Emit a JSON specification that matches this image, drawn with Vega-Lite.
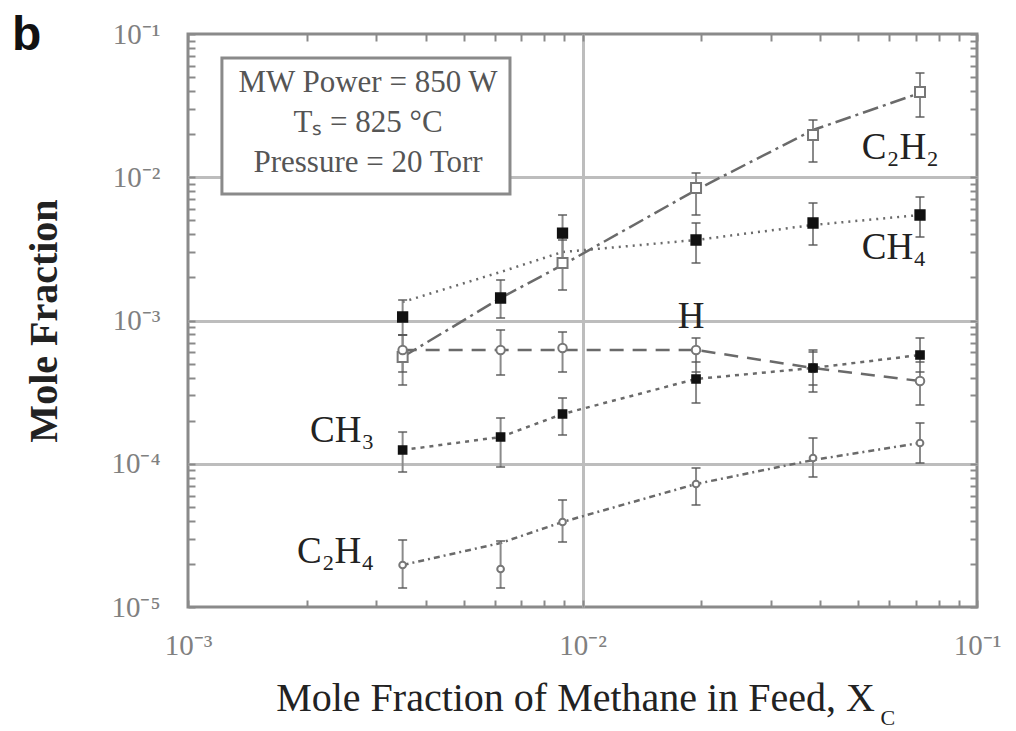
{
  "$schema": "https://vega.github.io/schema/vega-lite/v6.json",
  "width": 789,
  "height": 573,
  "autosize": {"type": "none"},
  "padding": {"left": 188, "top": 34, "right": 39, "bottom": 124},
  "title": {"text": "b", "anchor": "start", "frame": "group", "font": "Liberation Sans", "fontSize": 48, "fontWeight": "bold", "color": "#111111", "dx": -176, "dy": 40, "offset": 0},
  "config": {
    "view": {"stroke": "#8a8a8a", "strokeWidth": 3},
    "font": "Liberation Serif"
  },
  "datasets": {
    "pts": [
      {"species": "C2H2", "x": 0.0035, "y": 0.000556, "lo": 0.0003545, "hi": 0.000792},
      {"species": "C2H2", "x": 0.0089, "y": 0.00252, "lo": 0.001633, "hi": 0.003648},
      {"species": "C2H2", "x": 0.0194, "y": 0.008414, "lo": 0.005452, "hi": 0.01071},
      {"species": "C2H2", "x": 0.0384, "y": 0.01972, "lo": 0.01278, "hi": 0.0251},
      {"species": "C2H2", "x": 0.0717, "y": 0.03937, "lo": 0.02634, "hi": 0.05341},
      {"species": "CH4", "x": 0.0035, "y": 0.001058, "lo": 0.000792, "hi": 0.00139},
      {"species": "CH4", "x": 0.0062, "y": 0.001436, "lo": 0.001041, "hi": 0.001918},
      {"species": "CH4", "x": 0.0089, "y": 0.00408, "lo": 0.002731, "hi": 0.005452},
      {"species": "CH4", "x": 0.0194, "y": 0.003648, "lo": 0.00252, "hi": 0.004793},
      {"species": "CH4", "x": 0.0384, "y": 0.004793, "lo": 0.003366, "hi": 0.006611},
      {"species": "CH4", "x": 0.0717, "y": 0.005452, "lo": 0.003826, "hi": 0.00728},
      {"species": "H", "x": 0.0035, "y": 0.0006224, "lo": 0.0004369, "hi": 0.000792},
      {"species": "H", "x": 0.0062, "y": 0.0006224, "lo": 0.0004164, "hi": 0.0008587},
      {"species": "H", "x": 0.0089, "y": 0.0006427, "lo": 0.0004369, "hi": 0.0008312},
      {"species": "H", "x": 0.0194, "y": 0.0006224, "lo": 0.0004369, "hi": 0.0007547},
      {"species": "H", "x": 0.0384, "y": 0.000466, "lo": 0.0003545, "hi": 0.0006028},
      {"species": "H", "x": 0.0717, "y": 0.0003781, "lo": 0.0002571, "hi": 0.0005133},
      {"species": "CH3", "x": 0.0035, "y": 0.0001247, "lo": 0.00008759, "hi": 0.0001665},
      {"species": "CH3", "x": 0.0062, "y": 0.0001537, "lo": 0.0000949, "hi": 0.0002086},
      {"species": "CH3", "x": 0.0089, "y": 0.0002225, "lo": 0.0001587, "hi": 0.0002877},
      {"species": "CH3", "x": 0.0194, "y": 0.0003905, "lo": 0.0002655, "hi": 0.0005133},
      {"species": "CH3", "x": 0.0384, "y": 0.000466, "lo": 0.0003168, "hi": 0.0006224},
      {"species": "CH3", "x": 0.0717, "y": 0.0005742, "lo": 0.0004369, "hi": 0.0007547},
      {"species": "C2H4", "x": 0.0035, "y": 0.00001964, "lo": 0.00001357, "hi": 0.00002935},
      {"species": "C2H4", "x": 0.0062, "y": 0.00001842, "lo": 0.00001357, "hi": 0.00002888},
      {"species": "C2H4", "x": 0.0089, "y": 0.00003922, "lo": 0.00002842, "hi": 0.00005583},
      {"species": "C2H4", "x": 0.0194, "y": 0.00007223, "lo": 0.00005152, "hi": 0.0000934},
      {"species": "C2H4", "x": 0.0384, "y": 0.0001097, "lo": 0.00008083, "hi": 0.0001513},
      {"species": "C2H4", "x": 0.0717, "y": 0.0001396, "lo": 0.0001012, "hi": 0.0001925}
    ],
    "fits": [
      {"species": "C2H2", "x": 0.0035, "y": 0.000556},
      {"species": "C2H2", "x": 0.0062, "y": 0.001436},
      {"species": "C2H2", "x": 0.0089, "y": 0.00244},
      {"species": "C2H2", "x": 0.0194, "y": 0.008147},
      {"species": "C2H2", "x": 0.0384, "y": 0.02137},
      {"species": "C2H2", "x": 0.0717, "y": 0.03874},
      {"species": "CH4", "x": 0.0035, "y": 0.001346},
      {"species": "CH4", "x": 0.0062, "y": 0.002181},
      {"species": "CH4", "x": 0.0089, "y": 0.003007},
      {"species": "CH4", "x": 0.0194, "y": 0.003648},
      {"species": "CH4", "x": 0.0384, "y": 0.004641},
      {"species": "CH4", "x": 0.0717, "y": 0.005452},
      {"species": "H", "x": 0.0035, "y": 0.0006224},
      {"species": "H", "x": 0.0062, "y": 0.0006224},
      {"species": "H", "x": 0.0089, "y": 0.0006224},
      {"species": "H", "x": 0.0194, "y": 0.0006224},
      {"species": "H", "x": 0.0384, "y": 0.000466},
      {"species": "H", "x": 0.0717, "y": 0.0003781},
      {"species": "CH3", "x": 0.0035, "y": 0.0001247},
      {"species": "CH3", "x": 0.0062, "y": 0.0001537},
      {"species": "CH3", "x": 0.0089, "y": 0.0002225},
      {"species": "CH3", "x": 0.0194, "y": 0.0003905},
      {"species": "CH3", "x": 0.0384, "y": 0.000466},
      {"species": "CH3", "x": 0.0717, "y": 0.0005742},
      {"species": "C2H4", "x": 0.0035, "y": 0.00001964},
      {"species": "C2H4", "x": 0.0062, "y": 0.00002797},
      {"species": "C2H4", "x": 0.0089, "y": 0.00003922},
      {"species": "C2H4", "x": 0.0194, "y": 0.00007223},
      {"species": "C2H4", "x": 0.0384, "y": 0.0001062},
      {"species": "C2H4", "x": 0.0717, "y": 0.0001396}
    ],
    "labels": [
      {"text": "C₂H₂", "x": 0.05105, "y": 0.016},
      {"text": "CH₄", "x": 0.05105, "y": 0.003207},
      {"text": "H", "x": 0.01743, "y": 0.001058},
      {"text": "CH₃", "x": 0.002038, "y": 0.0001693},
      {"text": "C₂H₄", "x": 0.001889, "y": 0.00002421}
    ],
    "box": [
      {"x1": 0.001219, "x2": 0.006549, "y1": 0.06799, "y2": 0.007639}
    ],
    "boxtext": [
      {"text": "MW Power = 850 W", "x": 0.00286, "y": 0.0455},
      {"text": "Tₛ = 825 °C", "x": 0.00286, "y": 0.02391},
      {"text": "Pressure = 20 Torr", "x": 0.00286, "y": 0.01258}
    ],
    "sub": [
      {"text": "C", "x": 0.05942, "y": 0.000001679}
    ]
  },
  "resolve": {"axis": {"x": "independent", "y": "independent"}},
  "layer": [
    {
      "data": {"name": "box"},
      "mark": {"type": "rect", "fill": "white", "stroke": "#8a8a8a", "strokeWidth": 3},
      "encoding": {
        "x": {"field": "x1", "type": "quantitative", "scale": {"type": "log", "domain": [0.001, 0.1], "nice": false},
          "axis": {"orient": "top", "values": [0.001, 0.002, 0.003, 0.004, 0.005, 0.006, 0.007, 0.008, 0.009, 0.01, 0.02, 0.03, 0.04, 0.05, 0.06, 0.07, 0.08, 0.09, 0.1], "labels": false, "ticks": true, "tickSize": -7, "tickColor": "#8a8a8a", "tickWidth": 2, "grid": false, "domain": false, "title": null}},
        "x2": {"field": "x2"},
        "y": {"field": "y1", "type": "quantitative", "scale": {"type": "log", "domain": [0.00001, 0.1], "nice": false},
          "axis": {"orient": "right", "values": [0.00001, 0.00002, 0.00003, 0.00004, 0.00005, 0.00006, 0.00007, 0.00008, 0.00009, 0.0001, 0.0002, 0.0003, 0.0004, 0.0005, 0.0006, 0.0007, 0.0008, 0.0009, 0.001, 0.002, 0.003, 0.004, 0.005, 0.006, 0.007, 0.008, 0.009, 0.01, 0.02, 0.03, 0.04, 0.05, 0.06, 0.07, 0.08, 0.09, 0.1], "labels": false, "ticks": true, "tickSize": -7, "tickColor": "#8a8a8a", "tickWidth": 2, "grid": false, "domain": false, "title": null}},
        "y2": {"field": "y2"}
      }
    },
    {
      "data": {"name": "boxtext"},
      "mark": {"type": "text", "font": "Liberation Serif", "fontSize": 31, "color": "#555555", "align": "center", "baseline": "middle"},
      "encoding": {
        "x": {"field": "x", "type": "quantitative", "scale": {"type": "log", "domain": [0.001, 0.1], "nice": false}, "axis": null},
        "y": {"field": "y", "type": "quantitative", "scale": {"type": "log", "domain": [0.00001, 0.1], "nice": false}, "axis": null},
        "text": {"field": "text"}
      }
    },
    {
      "data": {"name": "fits"},
      "mark": {"type": "line", "color": "#6a6a6a", "strokeWidth": 2.5},
      "encoding": {
        "x": {"field": "x", "type": "quantitative", "scale": {"type": "log", "domain": [0.001, 0.1], "nice": false},
          "axis": {"orient": "bottom", "values": [0.001, 0.002, 0.003, 0.004, 0.005, 0.006, 0.007, 0.008, 0.009, 0.01, 0.02, 0.03, 0.04, 0.05, 0.06, 0.07, 0.08, 0.09, 0.1],
            "labelExpr": "datum.value == 0.001 ? '10⁻³' : datum.value == 0.01 ? '10⁻²' : datum.value == 0.1 ? '10⁻¹' : ''",
            "labelFont": "Liberation Serif", "labelFontSize": 29, "labelColor": "#808080", "labelOverlap": false, "labelFlush": false, "labelBound": false, "labelPadding": 31,
            "ticks": true, "tickSize": -7, "tickColor": "#8a8a8a", "tickWidth": 2,
            "grid": true, "gridColor": "#bdbdbd", "gridWidth": 3, "gridOpacity": {"condition": {"test": "datum.value == 0.01", "value": 1}, "value": 0},
            "domain": false,
            "title": "Mole Fraction of Methane in Feed, X", "titleFont": "Liberation Serif", "titleFontSize": 40, "titleFontWeight": "normal", "titleColor": "#222222", "titlePadding": 18, "titleX": 387}},
        "y": {"field": "y", "type": "quantitative", "scale": {"type": "log", "domain": [0.00001, 0.1], "nice": false},
          "axis": {"orient": "left", "values": [0.00001, 0.00002, 0.00003, 0.00004, 0.00005, 0.00006, 0.00007, 0.00008, 0.00009, 0.0001, 0.0002, 0.0003, 0.0004, 0.0005, 0.0006, 0.0007, 0.0008, 0.0009, 0.001, 0.002, 0.003, 0.004, 0.005, 0.006, 0.007, 0.008, 0.009, 0.01, 0.02, 0.03, 0.04, 0.05, 0.06, 0.07, 0.08, 0.09, 0.1],
            "labelExpr": "datum.value == 0.1 ? '10⁻¹' : datum.value == 0.01 ? '10⁻²' : datum.value == 0.001 ? '10⁻³' : datum.value == 0.0001 ? '10⁻⁴' : datum.value == 0.00001 ? '10⁻⁵' : ''",
            "labelFont": "Liberation Serif", "labelFontSize": 29, "labelColor": "#808080", "labelOverlap": false, "labelFlush": false, "labelBound": false, "labelPadding": 35,
            "ticks": true, "tickSize": -7, "tickColor": "#8a8a8a", "tickWidth": 2,
            "grid": true, "gridColor": "#bdbdbd", "gridWidth": 3, "gridOpacity": {"condition": {"test": "datum.value == 0.01 || datum.value == 0.001 || datum.value == 0.0001", "value": 1}, "value": 0},
            "domain": false,
            "title": "Mole Fraction", "titleFont": "Liberation Serif", "titleFontSize": 40, "titleFontWeight": "bold", "titleColor": "#222222", "titlePadding": 46}},
        "strokeDash": {"field": "species", "type": "nominal", "scale": {"domain": ["C2H2", "CH4", "H", "CH3", "C2H4"], "range": [[16, 5, 3, 5], [2, 5], [14, 9], [4, 5], [6, 4, 2, 4]]}, "legend": null}
      }
    },
    {
      "data": {"name": "pts"},
      "mark": {"type": "rule", "color": "#8a8a8a", "strokeWidth": 2},
      "encoding": {
        "x": {"field": "x", "type": "quantitative", "scale": {"type": "log", "domain": [0.001, 0.1], "nice": false}, "axis": null},
        "y": {"field": "lo", "type": "quantitative", "scale": {"type": "log", "domain": [0.00001, 0.1], "nice": false}, "axis": null},
        "y2": {"field": "hi"}
      }
    },
    {
      "data": {"name": "pts"},
      "transform": [{"fold": ["lo", "hi"], "as": ["end", "v"]}],
      "mark": {"type": "tick", "orient": "horizontal", "color": "#555555", "size": 9, "thickness": 2},
      "encoding": {
        "x": {"field": "x", "type": "quantitative", "scale": {"type": "log", "domain": [0.001, 0.1], "nice": false}, "axis": null},
        "y": {"field": "v", "type": "quantitative", "scale": {"type": "log", "domain": [0.00001, 0.1], "nice": false}, "axis": null}
      }
    },
    {
      "data": {"name": "pts"},
      "mark": {"type": "point", "filled": true, "strokeWidth": 2, "opacity": 1},
      "encoding": {
        "x": {"field": "x", "type": "quantitative", "scale": {"type": "log", "domain": [0.001, 0.1], "nice": false}, "axis": null},
        "y": {"field": "y", "type": "quantitative", "scale": {"type": "log", "domain": [0.00001, 0.1], "nice": false}, "axis": null},
        "shape": {"field": "species", "type": "nominal", "scale": {"domain": ["C2H2", "CH4", "H", "CH3", "C2H4"], "range": ["square", "square", "circle", "square", "circle"]}, "legend": null},
        "size": {"field": "species", "type": "nominal", "scale": {"domain": ["C2H2", "CH4", "H", "CH3", "C2H4"], "range": [100, 45, 90, 110, 70]}, "legend": null},
        "fill": {"field": "species", "type": "nominal", "scale": {"domain": ["C2H2", "CH4", "H", "CH3", "C2H4"], "range": ["#ffffff", "#111111", "#ffffff", "#111111", "#ffffff"]}, "legend": null},
        "stroke": {"field": "species", "type": "nominal", "scale": {"domain": ["C2H2", "CH4", "H", "CH3", "C2H4"], "range": ["#777777", "#111111", "#777777", "#111111", "#777777"]}, "legend": null}
      }
    },
    {
      "data": {"name": "labels"},
      "mark": {"type": "text", "font": "Liberation Serif", "fontSize": 37, "color": "#222222", "align": "left", "baseline": "middle"},
      "encoding": {
        "x": {"field": "x", "type": "quantitative", "scale": {"type": "log", "domain": [0.001, 0.1], "nice": false}, "axis": null},
        "y": {"field": "y", "type": "quantitative", "scale": {"type": "log", "domain": [0.00001, 0.1], "nice": false}, "axis": null},
        "text": {"field": "text"}
      }
    },
    {
      "data": {"name": "sub"},
      "mark": {"type": "text", "font": "Liberation Serif", "fontSize": 22, "color": "#222222", "align": "center", "baseline": "middle"},
      "encoding": {
        "x": {"field": "x", "type": "quantitative", "scale": {"type": "log", "domain": [0.001, 0.1], "nice": false}, "axis": null},
        "y": {"field": "y", "type": "quantitative", "scale": {"type": "log", "domain": [0.00001, 0.1], "nice": false}, "axis": null},
        "text": {"field": "text"}
      }
    }
  ]
}
